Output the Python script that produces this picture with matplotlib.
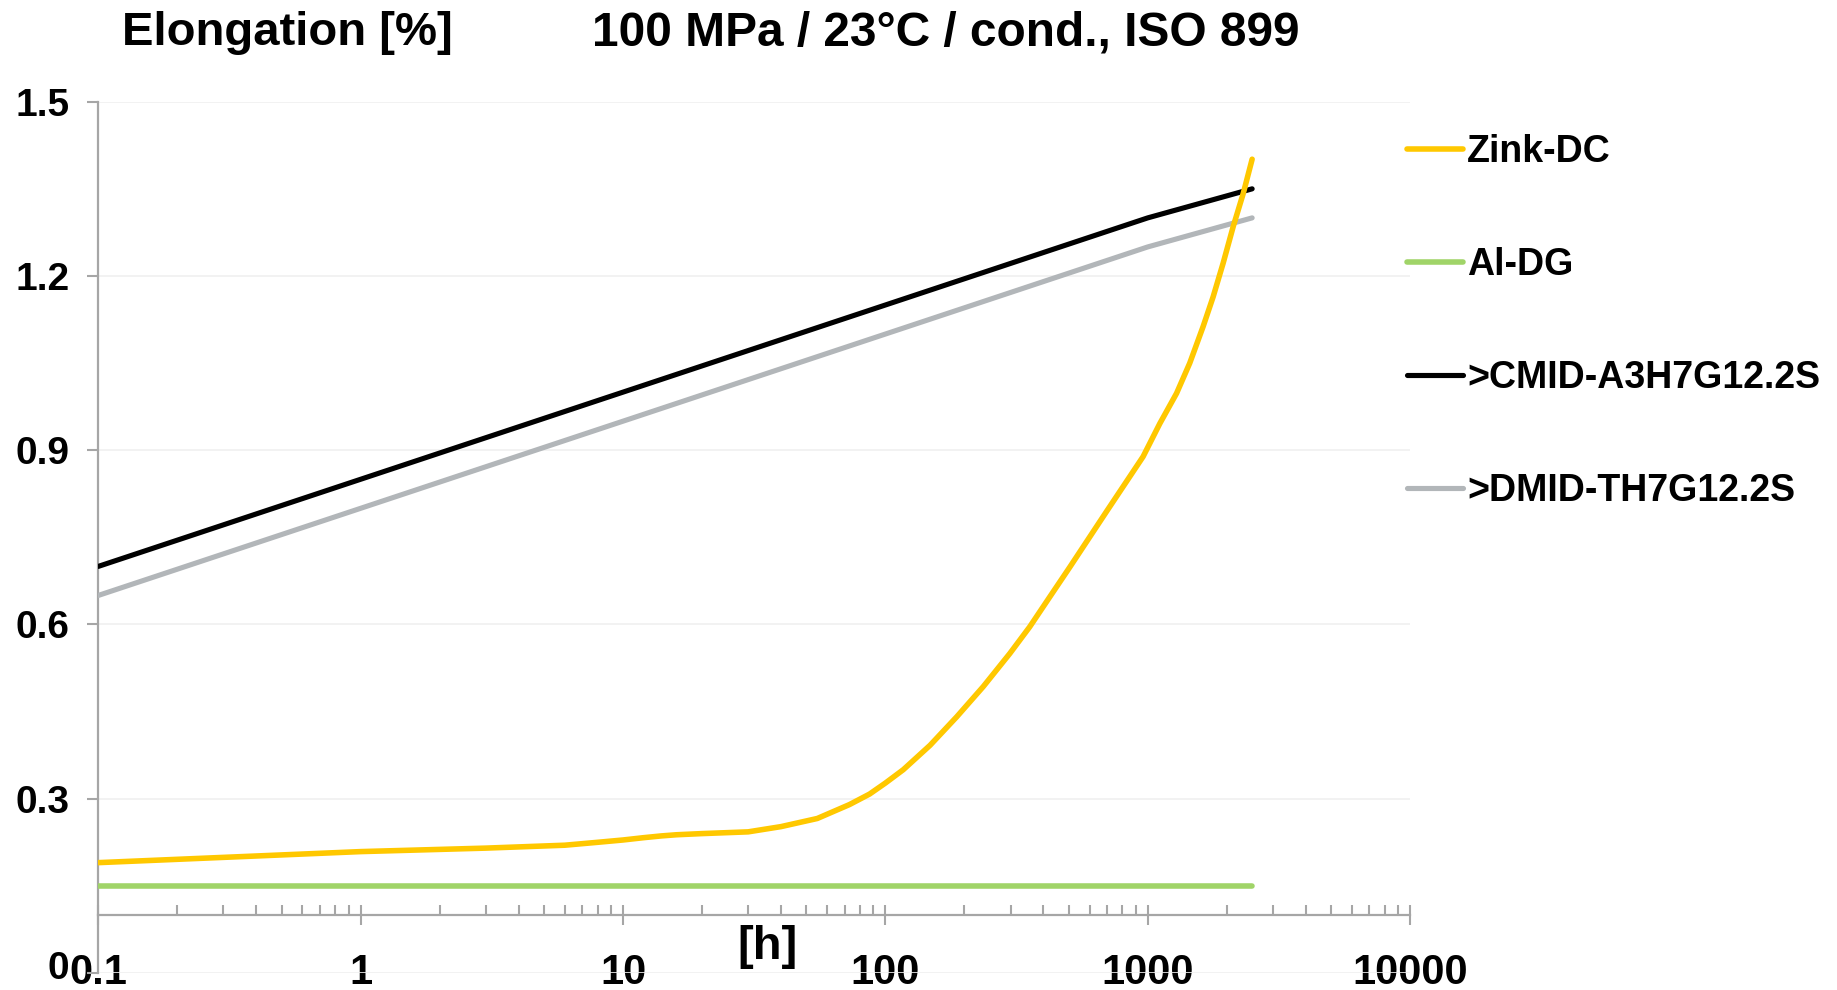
import numpy as np
import matplotlib.pyplot as plt
from matplotlib.ticker import FixedLocator, LogLocator, NullFormatter
from matplotlib.transforms import ScaledTranslation

plt.rcParams["font.family"] = ["Liberation Sans", "DejaVu Sans"]
plt.rcParams["font.weight"] = "bold"

# data
hours = [0.1, 1, 10, 100, 1000, 2500]
cmid = [0.70, 0.85, 1.00, 1.15, 1.30, 1.35]
dmid = [0.65, 0.80, 0.95, 1.10, 1.25, 1.30]

zink_hours = [0.1, 1, 3, 6, 8, 10, 12, 14, 16, 20, 30, 40, 55, 73, 87, 100,
              117, 148, 187, 236, 298, 355, 424, 505, 700, 960, 1112, 1288,
              1446, 1626, 1775, 1938, 2117, 2312, 2500]
zink = [0.190, 0.209, 0.215, 0.220, 0.225, 0.229, 0.233, 0.236, 0.238, 0.240,
        0.243, 0.252, 0.266, 0.290, 0.308, 0.327, 0.350, 0.392, 0.441, 0.493,
        0.550, 0.596, 0.648, 0.699, 0.796, 0.889, 0.946, 0.998, 1.050, 1.113,
        1.164, 1.222, 1.285, 1.342, 1.401]

al_hours = [0.1, 2500]
al = [0.15, 0.15]

labels = ["Zink-DC", "Al-DG", ">CMID-A3H7G12.2S", ">DMID-TH7G12.2S"]
colors = ["#FFC800", "#A0D468", "#000000", "#B2B6B9"]

y_ticks = [0, 0.3, 0.6, 0.9, 1.2, 1.5]
y_ticklabels = ["0", "0.3", "0.6", "0.9", "1.2", "1.5"]
x_ticks = [0.1, 1, 10, 100, 1000, 10000]
x_ticklabels = ["0.1", "1", "10", "100", "1000", "10000"]

fig = plt.figure(figsize=(18.37, 9.9), dpi=100)
ax = fig.add_axes([0.05351, 0.01717, 0.7141, 0.8801])

ax.plot(zink_hours, zink, color=colors[0], lw=4.0, label=labels[0],
        solid_capstyle="round", zorder=5)
ax.plot(al_hours, al, color=colors[1], lw=4.0, label=labels[1],
        solid_capstyle="round", zorder=3)
ax.plot(hours, cmid, color=colors[2], lw=3.7, label=labels[2],
        solid_capstyle="round", zorder=4)
ax.plot(hours, dmid, color=colors[3], lw=3.7, label=labels[3],
        solid_capstyle="round", zorder=4)

ax.set_xscale("log")
ax.set_xlim(0.1, 10000)
ax.set_ylim(0, 1.5)

# y axis
ax.yaxis.set_major_locator(FixedLocator(y_ticks))
ax.set_yticklabels(y_ticklabels)
ax.grid(axis="y", color="#F0F0F0", lw=1.2)
ax.set_axisbelow(True)

# x axis drawn at y = 0.1
ax.spines["top"].set_visible(False)
ax.spines["right"].set_visible(False)
ax.spines["bottom"].set_position(("data", 0.1))
for s in ["left", "bottom"]:
    ax.spines[s].set_color("#A6A6A6")
    ax.spines[s].set_linewidth(1.6)

ax.xaxis.set_major_locator(FixedLocator(x_ticks))
ax.set_xticklabels(x_ticklabels)
ax.xaxis.set_minor_locator(LogLocator(base=10, subs=np.arange(2, 10)))
ax.xaxis.set_minor_formatter(NullFormatter())

ax.tick_params(axis="y", which="major", direction="out", length=8, width=1.5,
               color="#A6A6A6", labelsize=28, pad=13)
ax.tick_params(axis="x", which="major", direction="inout", length=15,
               width=1.5, color="#A6A6A6", labelsize=30, pad=20)
ax.tick_params(axis="x", which="minor", direction="in", length=7, width=1.5,
               color="#A6A6A6")
for lab in ax.get_xticklabels() + ax.get_yticklabels():
    lab.set_fontweight("bold")

# keep the "0" label inside the figure
zero_lab = ax.yaxis.get_major_ticks()[0].label1
zero_lab.set_transform(zero_lab.get_transform()
                       + ScaledTranslation(0, 6 / 72, fig.dpi_scale_trans))

fig.text(0.418, 0.0439, "[h]", fontsize=34, fontweight="bold",
         ha="center", va="center")

fig.text(0.0664, 0.9545, "Elongation [%]", fontsize=34, fontweight="bold",
         ha="left", va="baseline")
fig.text(0.3222, 0.9545, "100 MPa / 23°C / cond., ISO 899", fontsize=34.5,
         fontweight="bold", ha="left", va="baseline")

ax.legend(loc="upper left", bbox_to_anchor=(0.7659, 0.865),
          bbox_transform=fig.transFigure, frameon=False, borderpad=0,
          borderaxespad=0, handlelength=1.5, handletextpad=0.1,
          labelspacing=2.06, prop={"size": 27, "weight": "bold"})

plt.savefig("out.png", dpi=100)
plt.close()
